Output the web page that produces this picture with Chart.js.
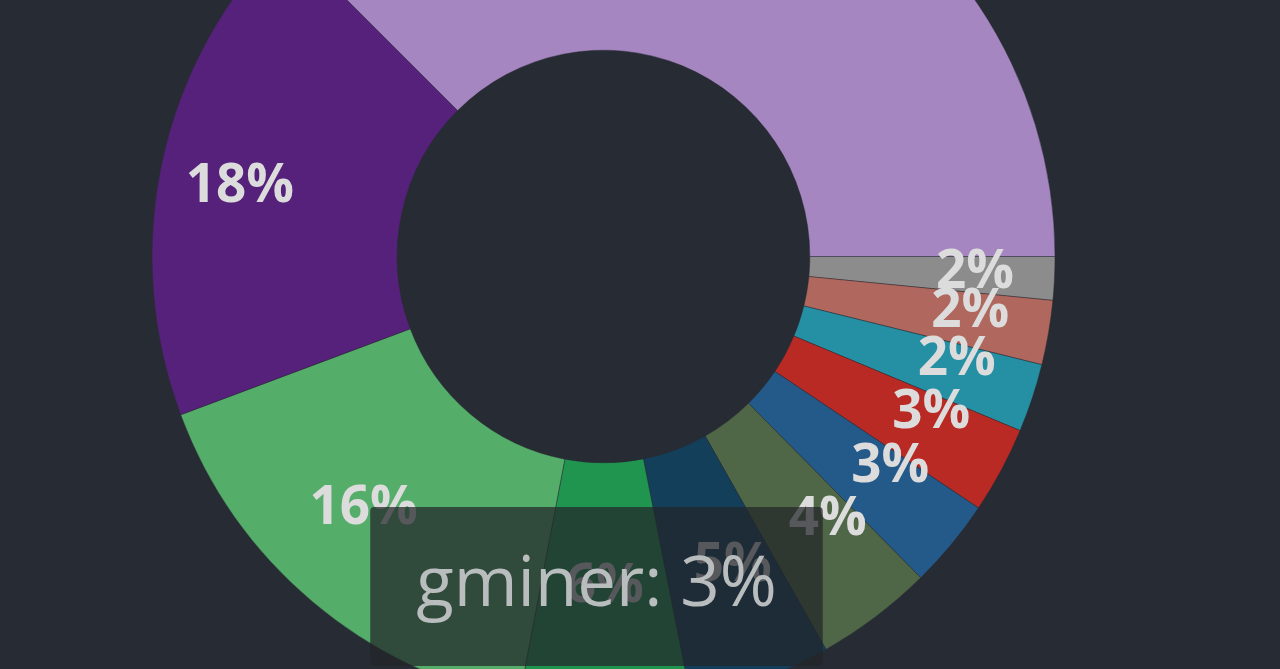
<!DOCTYPE html>
<html>
<head>
<meta charset="utf-8">
<script src="https://cdn.jsdelivr.net/npm/chart.js@4"></script>
<style>
  html, body { margin: 0; padding: 0; width: 1280px; height: 669px; overflow: hidden; background: #272b33; }
  #wrap { position: absolute; left: 0; top: -300px; width: 1207px; height: 1113px; }
</style>
</head>
<body>
<div id="wrap"><canvas id="minerChart" width="1207" height="1113"></canvas></div>
<script>
// miner share, clockwise from 3 o'clock
const miners = ['nanominer', 'srbminer', 'bzminer', 'teamredminer', 'gminer', 'xmrig',
                'nbminer', 'phoenixminer', 'lolminer', 't-rex', 'other'];
const shares = [1.55, 2.3, 2.45, 3.1, 3.2, 4.2, 5.1, 6.1, 16.3, 18.2, 37.5];
const sliceColors = ['#8c8c8c', '#b0675d', '#2590a4', '#b92a25', '#245a8a', '#4f6647',
                     '#133f5a', '#1f9550', '#55ad6a', '#56217a', '#a586c1'];

const total = shares.reduce((a, b) => a + b, 0);
const pct = v => Math.round(v / total * 100);

// draw the percentage on every slice
const sliceLabels = {
    id: 'sliceLabels',
    afterDatasetsDraw(chart) {
        const ctx = chart.ctx;
        const meta = chart.getDatasetMeta(0);
        ctx.save();
        ctx.font = 'bold 53px "Open Sans"';
        ctx.fillStyle = '#dcdcdc';
        ctx.textAlign = 'center';
        ctx.textBaseline = 'middle';
        meta.data.forEach((arc, i) => {
            const mid = (arc.startAngle + arc.endAngle) / 2;
            // labels sit on a slightly flattened ring
            const rx = arc.outerRadius * 0.824;
            const ry = arc.outerRadius * 0.731;
            ctx.fillText(pct(shares[i]) + '%', arc.x + Math.cos(mid) * rx, arc.y + Math.sin(mid) * ry);
        });
        ctx.restore();
    }
};

// tooltip sits just under the hole
Chart.Tooltip.positioners.underHole = function(items) {
    if (!items.length) return false;
    const arc = items[0].element;
    return { x: arc.x - 7, y: arc.y + arc.outerRadius * 0.555 };
};

const ctx = document.getElementById('minerChart').getContext('2d');
const chart = new Chart(ctx, {
    type: 'doughnut',
    data: {
        labels: miners,
        datasets: [{
            data: shares,
            backgroundColor: sliceColors,
            hoverBackgroundColor: sliceColors,
            borderColor: 'rgba(39,43,51,0.45)',
            hoverBorderColor: 'rgba(39,43,51,0.45)',
            borderWidth: 1,
            hoverOffset: 0,
            radius: 451.5,
            cutout: '45.7%'
        }]
    },
    options: {
        responsive: false,
        animation: false,
        rotation: 90,
        events: [],
        plugins: {
            legend: { display: false },
            tooltip: {
                position: 'underHole',
                xAlign: 'center',
                yAlign: 'top',
                caretSize: 0,
                caretPadding: 0,
                displayColors: false,
                backgroundColor: 'rgba(35,38,42,0.72)',
                cornerRadius: 4,
                padding: { left: 46, right: 46, top: 38, bottom: 38 },
                bodyColor: '#b9bdbe',
                bodyFont: { family: 'Open Sans', size: 69, weight: 'normal' },
                callbacks: {
                    title: () => '',
                    label: item => `${item.label}: ${pct(item.raw)}%`
                }
            }
        }
    },
    plugins: [sliceLabels]
});

chart.tooltip.setActiveElements([{ datasetIndex: 0, index: 4 }], { x: 603, y: 500 });
chart.update();
</script>
</body>
</html>
